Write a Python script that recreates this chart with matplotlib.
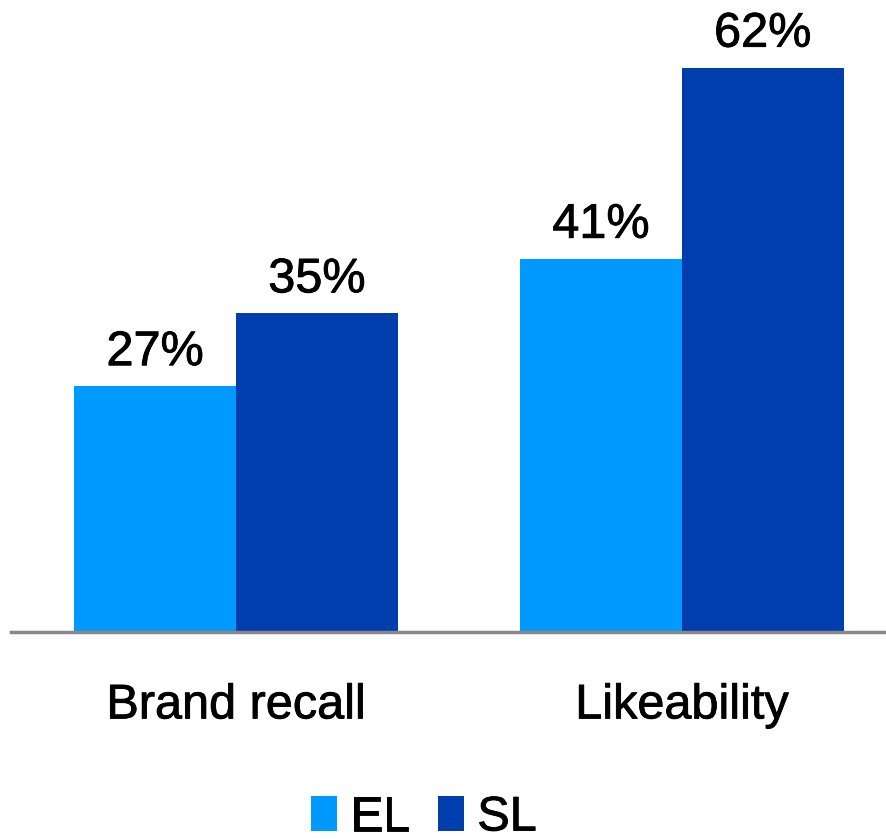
import matplotlib
matplotlib.use("Agg")
import matplotlib.pyplot as plt
import matplotlib.patheffects as pe
import numpy as np

plt.rcParams['font.family'] = ['Liberation Sans', 'DejaVu Sans']

categories = ["Brand recall", "Likeability"]
series_names = ["EL", "SL"]
el_values = [27, 41]
sl_values = [35, 62]
colors = ["#0099FF", "#003DAD"]

FS = 35
heavy = [pe.withStroke(linewidth=0.6, foreground="black")]

W, H = 887, 839
fig = plt.figure(figsize=(W / 100, H / 100), dpi=100)
ax = fig.add_axes([11 / W, (H - 632) / H, 1 - 11 / W, 632 / H])

x = np.arange(len(categories))
bw = 0.363
bars_el = ax.bar(x - bw / 2, el_values, bw, color=colors[0], label=series_names[0])
bars_sl = ax.bar(x + bw / 2, sl_values, bw, color=colors[1], label=series_names[1])

for bars, vals in ((bars_el, el_values), (bars_sl, sl_values)):
    for b, v in zip(bars, vals):
        ax.annotate(f"{v}%", (b.get_x() + b.get_width() / 2, v),
                    xytext=(0, 8), textcoords="offset points",
                    ha="center", va="bottom", fontsize=FS, color="black",
                    path_effects=heavy)

ax.set_xlim(-0.505, 1.46)
ax.set_ylim(0, 69.45)
ax.set_xticks(x)
ax.set_xticklabels(categories, fontsize=FS, path_effects=heavy)
ax.tick_params(axis="x", length=0, pad=37)
ax.set_yticks([])
for s in ("left", "right", "top"):
    ax.spines[s].set_visible(False)
ax.spines["bottom"].set_color("#888888")
ax.spines["bottom"].set_linewidth(2.5)

leg = fig.legend(handles=[bars_el, bars_sl], labels=series_names, loc="center",
                 bbox_to_anchor=(424 / W, 1 - 818 / H), ncol=2, frameon=False,
                 fontsize=FS, handlelength=0.535, handleheight=0.74,
                 handletextpad=0.27, columnspacing=0.58, borderpad=0)
for t in leg.get_texts():
    t.set_path_effects(heavy)

fig.savefig("out.png", dpi=100)
